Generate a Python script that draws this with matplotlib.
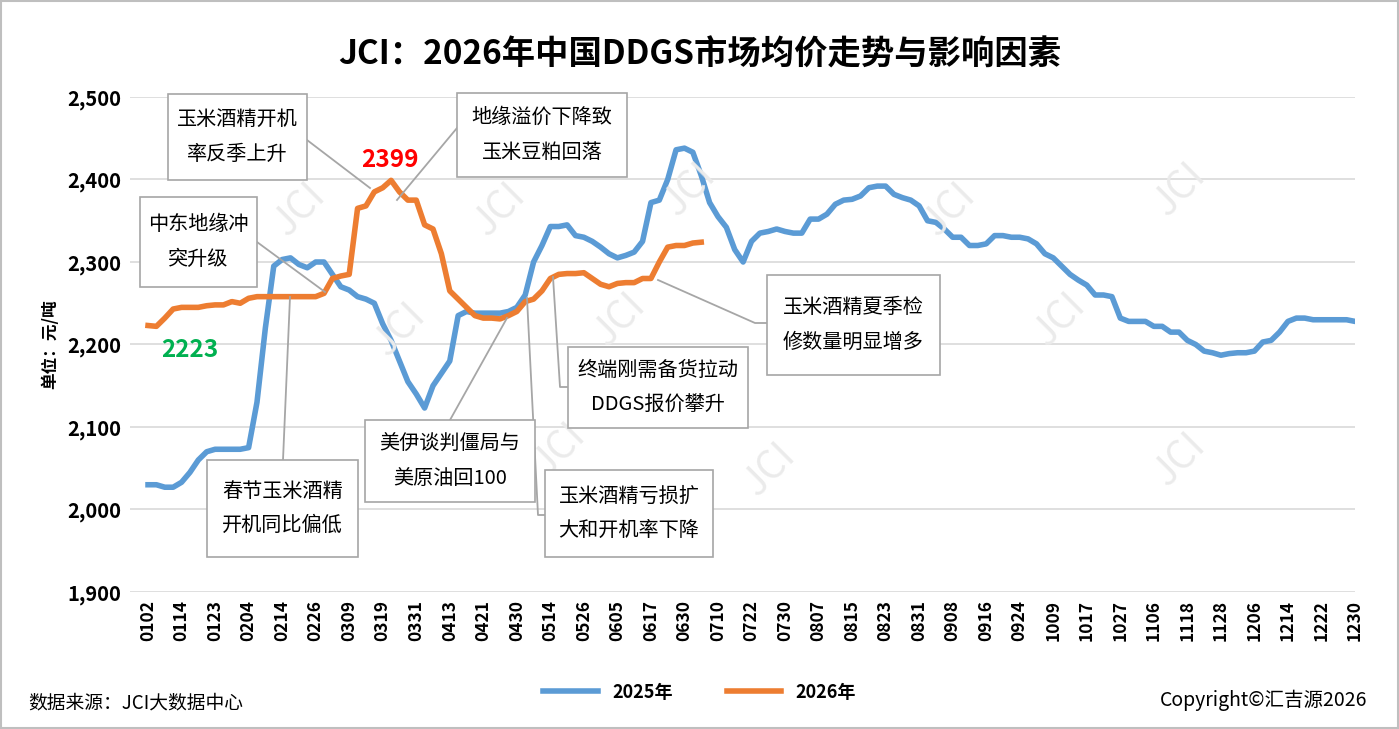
import matplotlib.pyplot as plt
from matplotlib.patches import Rectangle
from matplotlib.lines import Line2D

plt.rcParams['font.family'] = ['Noto Sans CJK SC', 'DejaVu Sans']

tick_labels = ['0102', '0114', '0123', '0204', '0214', '0226', '0309', '0319', '0331', '0413',
               '0421', '0430', '0514', '0526', '0605', '0617', '0630', '0710', '0722', '0730',
               '0807', '0815', '0823', '0831', '0908', '0916', '0924', '1009', '1017', '1027',
               '1106', '1118', '1128', '1206', '1214', '1222', '1230']

price_2025 = [2030, 2030, 2027, 2027, 2033, 2045, 2060, 2070, 2073, 2073,
              2073, 2073, 2075, 2130, 2220, 2295, 2303, 2305, 2297, 2293,
              2300, 2300, 2285, 2270, 2266, 2258, 2255, 2250, 2225, 2205,
              2180, 2155, 2140, 2123, 2150, 2165, 2180, 2235, 2240, 2238,
              2238, 2238, 2238, 2240, 2245, 2260, 2300, 2320, 2343, 2343,
              2345, 2332, 2330, 2325, 2318, 2310, 2305, 2308, 2312, 2325,
              2372, 2375, 2400, 2436, 2438, 2433, 2405, 2372, 2355, 2342,
              2315, 2300, 2325, 2335, 2337, 2340, 2337, 2335, 2335, 2352,
              2352, 2358, 2370, 2375, 2376, 2380, 2390, 2392, 2392, 2382,
              2378, 2375, 2368, 2350, 2348, 2340, 2330, 2330, 2320, 2320,
              2322, 2332, 2332, 2330, 2330, 2328, 2322, 2310, 2305, 2295,
              2285, 2278, 2272, 2260, 2260, 2258, 2232, 2228, 2228, 2228,
              2222, 2222, 2215, 2215, 2205, 2200, 2192, 2190, 2187, 2189,
              2190, 2190, 2192, 2203, 2205, 2215, 2228, 2232, 2232, 2230,
              2230, 2230, 2230, 2230, 2228]

price_2026 = [2223, 2222, 2232, 2243, 2245, 2245, 2245, 2247, 2248, 2248,
              2252, 2250, 2256, 2258, 2258, 2258, 2258, 2258, 2258, 2258,
              2258, 2262, 2280, 2283, 2285, 2365, 2368, 2385, 2390, 2399,
              2385, 2375, 2375, 2345, 2340, 2310, 2265, 2255, 2245, 2235,
              2232, 2232, 2231, 2235, 2240, 2252, 2255, 2265, 2280, 2285,
              2286, 2286, 2287, 2280, 2273, 2270, 2274, 2275, 2275, 2280,
              2280, 2300, 2318, 2320, 2320, 2323, 2324]

W, H = 1399, 729
fig = plt.figure(figsize=(W / 100, H / 100), dpi=100)


def fx(px):
    return px / W


def fy(py):
    return 1 - py / H


ax = fig.add_axes([fx(130), fy(592), fx(1355 - 130), (592 - 97) / H])
ax.plot(range(len(price_2025)), price_2025, color='#5b9bd5', lw=4, label='2025年', zorder=3)
ax.plot(range(len(price_2026)), price_2026, color='#ed7d31', lw=4, label='2026年', zorder=3)
ax.set_xlim(-2.15, 144)
ax.set_ylim(1900, 2500)
ax.set_yticks(range(1900, 2501, 100))
ax.set_yticklabels([f'{v:,}' for v in range(1900, 2501, 100)], fontsize=14.5, fontweight='bold')
ax.set_xticks(range(0, 145, 4))
ax.set_xticklabels(tick_labels, rotation=90, fontsize=12.5, fontweight='bold')
ax.grid(axis='y', color='#d9d9d9', lw=1.2)
for s in ax.spines.values():
    s.set_visible(False)
ax.tick_params(length=0, pad=6)
ax.set_ylabel('单位：元/吨', fontsize=12, fontweight='bold', labelpad=6)

# watermarks
for wx, wy in [(300, 210), (500, 210), (690, 190), (950, 210), (1180, 190),
               (400, 330), (620, 320), (1060, 320), (560, 450), (770, 470), (1180, 460)]:
    fig.text(fx(wx), fy(wy), 'JCI', rotation=45, fontsize=28, color='#ebebeb',
             ha='center', va='center', zorder=0)

fig.text(0.5, fy(55), 'JCI：2026年中国DDGS市场均价走势与影响因素', ha='center', va='center',
         fontsize=24, fontweight='bold')
fig.text(fx(390), fy(160), '2399', color='red', fontsize=17.5, fontweight='bold', ha='center', va='center')
fig.text(fx(190), fy(350), '2223', color='#00b050', fontsize=17.5, fontweight='bold', ha='center', va='center')

boxes = [
    ('玉米酒精开机\n率反季上升', 168, 94, 307, 180, [(307, 140), (370, 188)]),
    ('地缘溢价下降致\n玉米豆粕回落', 457, 93, 627, 177, [(457, 128), (397, 200)]),
    ('中东地缘冲\n突升级', 140, 197, 257, 287, [(257, 242), (325, 292)]),
    ('春节玉米酒精\n开机同比偏低', 207, 460, 358, 557, [(283, 460), (290, 297)]),
    ('美伊谈判僵局与\n美原油回100', 365, 420, 535, 502, [(450, 420), (507, 318)]),
    ('玉米酒精亏损扩\n大和开机率下降', 545, 470, 713, 557, [(545, 515), (538, 515), (527, 298)]),
    ('终端刚需备货拉动\nDDGS报价攀升', 568, 347, 748, 428, [(568, 387), (560, 387), (553, 277)]),
    ('玉米酒精夏季检\n修数量明显增多', 767, 275, 940, 375, [(767, 323), (755, 323), (658, 280)]),
]
for txt, x0, y0, x1, y1, pts in boxes:
    fig.add_artist(Line2D([fx(p[0]) for p in pts], [fy(p[1]) for p in pts],
                          color='#a6a6a6', lw=1.3, zorder=4))
    fig.add_artist(Rectangle((fx(x0), fy(y1)), fx(x1 - x0), (y1 - y0) / H, facecolor='white',
                             edgecolor='#a6a6a6', lw=1.2, zorder=5))
    fig.text(fx((x0 + x1) / 2), fy((y0 + y1) / 2), txt, ha='center', va='center',
             fontsize=14.5, linespacing=1.85, zorder=6)

fig.legend(loc='center', bbox_to_anchor=(0.5, fy(692)), ncol=2, frameon=False,
           prop={'weight': 'bold', 'size': 13}, handlelength=3, columnspacing=3)
fig.text(fx(28), fy(703), '数据来源：JCI大数据中心', fontsize=13.5, va='center')
fig.text(fx(1367), fy(700), 'Copyright©汇吉源2026', fontsize=14, va='center', ha='right')
fig.add_artist(Rectangle((0.001, 0.001), 0.998, 0.998, fill=False, edgecolor='#bfbfbf', lw=1.5))

fig.savefig('out.png', dpi=100)
